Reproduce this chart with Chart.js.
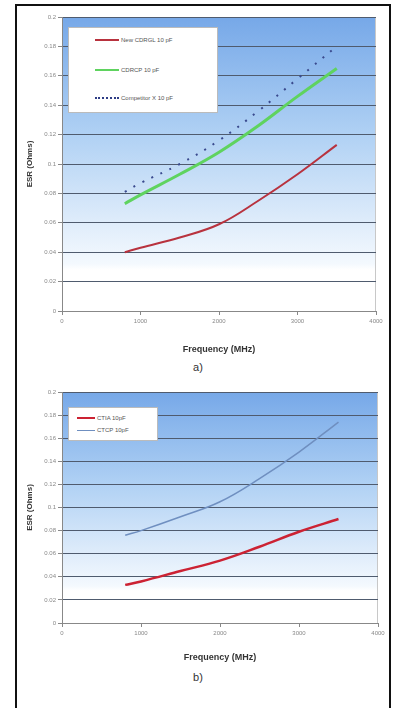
<!DOCTYPE html>
<html>
<head>
<meta charset="utf-8">
<script src="https://cdn.jsdelivr.net/npm/chart.js@4/dist/chart.umd.min.js"></script>
<style>
  html, body { margin: 0; padding: 0; background: #fff; width: 396px; height: 708px; overflow: hidden; }
  body { position: relative; font-family: "Liberation Sans", Arial, sans-serif; }
  .frame { position: absolute; left: 15px; top: 4px; width: 372px; height: 720px; border: 2px solid #111; }
  .wrap { position: absolute; left: 16px; width: 372px; }
  .caption { position: absolute; width: 396px; left: 0; text-align: center; font-size: 11px; color: #333; }
  .legend { position: absolute; background: #fff; border: 1px solid #bbb; font-size: 6px; color: #555; }
  .legend .row { position: absolute; left: 0; white-space: nowrap; }
  .legend .sw { display: inline-block; vertical-align: middle; margin-right: 2px; }
  .legend span.t { vertical-align: middle; }
</style>
</head>
<body>
<div class="frame"></div>

<div class="wrap" style="top:5px;height:354px;"><canvas id="chartA"></canvas></div>
<div class="caption" style="top:361px;">a)</div>

<div class="legend" style="left:68px;top:27px;width:148px;height:84px;">
  <div class="row" style="top:9px;left:26px;"><span class="sw" style="width:24px;border-top:2px solid #b8323e;"></span><span class="t">New CDRGL 10 pF</span></div>
  <div class="row" style="top:39px;left:26px;"><span class="sw" style="width:24px;border-top:2px solid #5fd35f;"></span><span class="t">CDRCP 10 pF</span></div>
  <div class="row" style="top:67px;left:26px;"><span class="sw" style="width:24px;border-top:2px dotted #2e3d85;"></span><span class="t">Competitor X 10 pF</span></div>
</div>

<div class="wrap" style="top:380px;height:287px;"><canvas id="chartB"></canvas></div>
<div class="caption" style="top:671px;">b)</div>

<div class="legend" style="left:68px;top:407px;width:88px;height:32px;">
  <div class="row" style="top:7px;left:8px;"><span class="sw" style="width:18px;border-top:2px solid #cc2233;"></span><span class="t">CTIA 10pF</span></div>
  <div class="row" style="top:19px;left:8px;"><span class="sw" style="width:18px;border-top:1px solid #6f8fc0;"></span><span class="t">CTCP 10pF</span></div>
</div>

<script>
// frequencies (MHz)
const freqs = [800, 1000, 1500, 2000, 2500, 3000, 3500];
const xTicks = [0, 1000, 2000, 3000, 4000];
const yTicks = [0, 0.02, 0.04, 0.06, 0.08, 0.1, 0.12, 0.14, 0.16, 0.18, 0.2];

// chart a) ESR (Ohms)
const newCdrgl = [0.040, 0.0430, 0.050, 0.059, 0.075, 0.093, 0.113];
const cdrcp = [0.073, 0.079, 0.093, 0.108, 0.126, 0.146, 0.165];
const competitorX = [0.081, 0.087, 0.100, 0.116, 0.136, 0.158, 0.180];

// chart b) ESR (Ohms)
const ctia = [0.033, 0.036, 0.045, 0.054, 0.066, 0.079, 0.090];
const ctcp = [0.076, 0.080, 0.092, 0.105, 0.125, 0.148, 0.174];

function pts(values) {
    return freqs.map((f, i) => ({ x: f, y: values[i] }));
}

const gradientBg = {
    id: "gradientBg",
    beforeDraw(chart) {
        const { ctx, chartArea: a } = chart;
        const g = ctx.createLinearGradient(0, a.top, 0, a.bottom);
        g.addColorStop(0, "rgb(118,168,232)");
        g.addColorStop(0.4, "rgb(176,209,244)");
        g.addColorStop(0.72, "rgb(226,238,251)");
        g.addColorStop(0.84, "rgb(244,249,254)");
        g.addColorStop(0.86, "#ffffff");
        g.addColorStop(1, "#ffffff");
        ctx.save();
        ctx.fillStyle = g;
        ctx.fillRect(a.left, a.top, a.right - a.left, a.bottom - a.top);
        ctx.strokeStyle = "#c8c8c8";
        ctx.lineWidth = 1;
        ctx.beginPath();
        ctx.moveTo(a.left, a.top + 0.5);
        ctx.lineTo(a.right - 0.5, a.top + 0.5);
        ctx.lineTo(a.right - 0.5, a.bottom);
        ctx.stroke();
        ctx.restore();
    },
};

function createChart(canvasId, datasets, pad, xHeight) {
    return new Chart(document.getElementById(canvasId).getContext("2d"), {
        type: "line",
        data: { datasets },
        options: {
            responsive: true,
            maintainAspectRatio: false,
            animation: false,
            layout: { padding: pad },
            elements: { point: { radius: 0 }, line: { tension: 0.4 } },
            scales: {
                x: {
                    type: "linear",
                    min: 0,
                    max: 4000,
                    afterBuildTicks: (s) => { s.ticks = xTicks.map((v) => ({ value: v })); },
                    afterFit: (s) => { s.height = xHeight; },
                    grid: { drawOnChartArea: false, tickLength: 4, color: "#888" },
                    border: { color: "#888" },
                    ticks: {
                        color: "#888", font: { size: 6, family: "Liberation Sans" }, padding: 3, maxRotation: 0,
                        callback: (v) => String(v),
                    },
                    title: {
                        display: true,
                        text: "Frequency (MHz)",
                        color: "#333",
                        font: { size: 9, weight: "bold", family: "Liberation Sans" },
                        padding: { top: 0, bottom: 4 },
                    },
                },
                y: {
                    min: 0,
                    max: 0.2,
                    afterBuildTicks: (s) => { s.ticks = yTicks.map((v) => ({ value: v })); },
                    afterFit: (s) => { s.width = 46; },
                    grid: { color: "#4f5b6e", tickLength: 4, tickColor: "#888" },
                    border: { color: "#888" },
                    ticks: {
                        color: "#888", font: { size: 6, family: "Liberation Sans" }, padding: 2,
                        callback: (v) => String(Math.round(v * 100) / 100),
                    },
                    title: {
                        display: true,
                        text: "ESR (Ohms)",
                        color: "#333",
                        font: { size: 8, weight: "bold", family: "Liberation Sans" },
                        padding: { top: 9, bottom: 0 },
                    },
                },
            },
            plugins: { legend: { display: false }, tooltip: { enabled: false } },
        },
        plugins: [gradientBg],
    });
}

createChart("chartA", [
    { label: "New CDRGL 10 pF", data: pts(newCdrgl), borderColor: "#b8323e", borderWidth: 2 },
    { label: "CDRCP 10 pF", data: pts(cdrcp), borderColor: "#5fd35f", borderWidth: 3 },
    { label: "Competitor X 10 pF", data: pts(competitorX), borderColor: "#3a4a8e", borderWidth: 2, borderDash: [2, 8] },
], { left: 0, top: 12, right: 12, bottom: 0 }, 48);

createChart("chartB", [
    { label: "CTIA 10pF", data: pts(ctia), borderColor: "#cc2233", borderWidth: 2.5 },
    { label: "CTCP 10pF", data: pts(ctcp), borderColor: "#6f8fc0", borderWidth: 1.5 },
], { left: 0, top: 12, right: 10, bottom: 0 }, 44);
</script>
</body>
</html>
